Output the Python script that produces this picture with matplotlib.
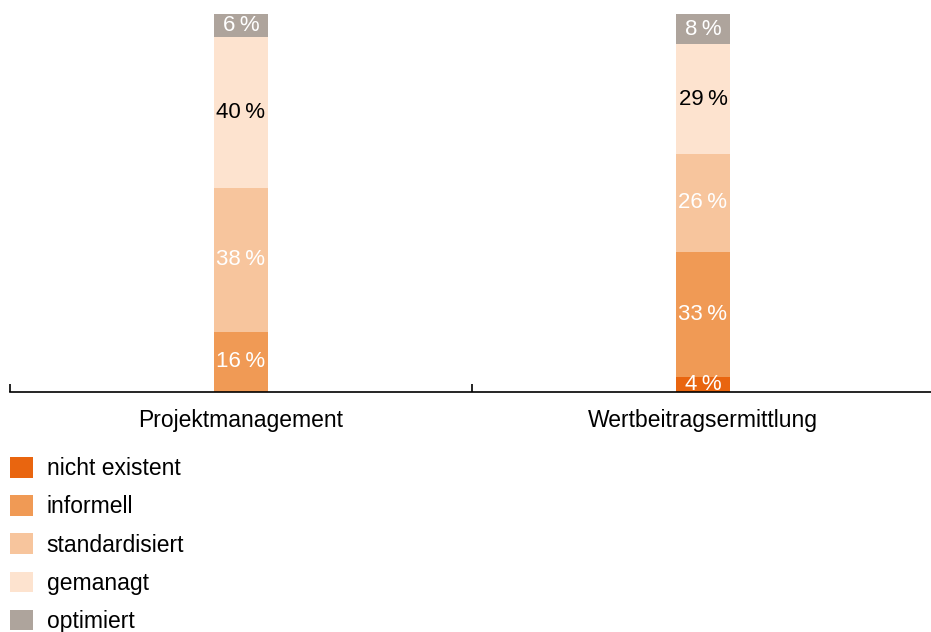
import matplotlib.pyplot as plt
from matplotlib.patches import Patch

plt.rcParams["font.family"] = ["Liberation Sans", "DejaVu Sans"]

categories = ["Projektmanagement", "Wertbeitragsermittlung"]
levels = ["nicht existent", "informell", "standardisiert", "gemanagt", "optimiert"]
values = {
    "nicht existent": [0, 4],
    "informell": [16, 33],
    "standardisiert": [38, 26],
    "gemanagt": [40, 29],
    "optimiert": [6, 8],
}
colors = {
    "nicht existent": "#E9650F",
    "informell": "#F09A55",
    "standardisiert": "#F7C59D",
    "gemanagt": "#FDE3CF",
    "optimiert": "#AEA49C",
}
text_colors = {
    "nicht existent": "white",
    "informell": "white",
    "standardisiert": "white",
    "gemanagt": "black",
    "optimiert": "white",
}

fig = plt.figure(figsize=(9.31, 6.32), dpi=100)
ax = fig.add_axes([10 / 931, 1 - 392 / 632, 924 / 931, 378 / 632])

x = [0, 1]
bottom = [0.0, 0.0]
for level in levels:
    vals = values[level]
    ax.bar(x, vals, bottom=bottom, width=0.115, color=colors[level], label=level)
    for i, v in enumerate(vals):
        if v > 0:
            ax.text(x[i], bottom[i] + v / 2, f"{v}\u2009%", ha="center", va="center",
                    color=text_colors[level], fontsize=16)
    bottom = [b + v for b, v in zip(bottom, vals)]

ax.set_xlim(-0.5, 1.5)
ax.set_ylim(0, 100)
for side in ["top", "right", "left"]:
    ax.spines[side].set_visible(False)
ax.spines["bottom"].set_linewidth(1.2)
ax.set_yticks([])
ax.set_xticks(x)
ax.set_xticklabels(categories, fontsize=16.5)
ax.tick_params(axis="x", length=0, pad=12)
# category boundary ticks
ax.set_xticks([-0.5, 0.5, 1.5], minor=True)
ax.tick_params(axis="x", which="minor", length=6, width=1.2, direction="in")

handles = [Patch(facecolor=colors[l], label=l) for l in levels]
fig.legend(handles=handles, loc="upper left", bbox_to_anchor=(10 / 931, 1 - 457 / 632),
           frameon=False, fontsize=16.5, handlelength=1.0, handleheight=1.0,
           handletextpad=0.6, labelspacing=0.66, borderaxespad=0, borderpad=0)

fig.savefig("out.png", dpi=100)
